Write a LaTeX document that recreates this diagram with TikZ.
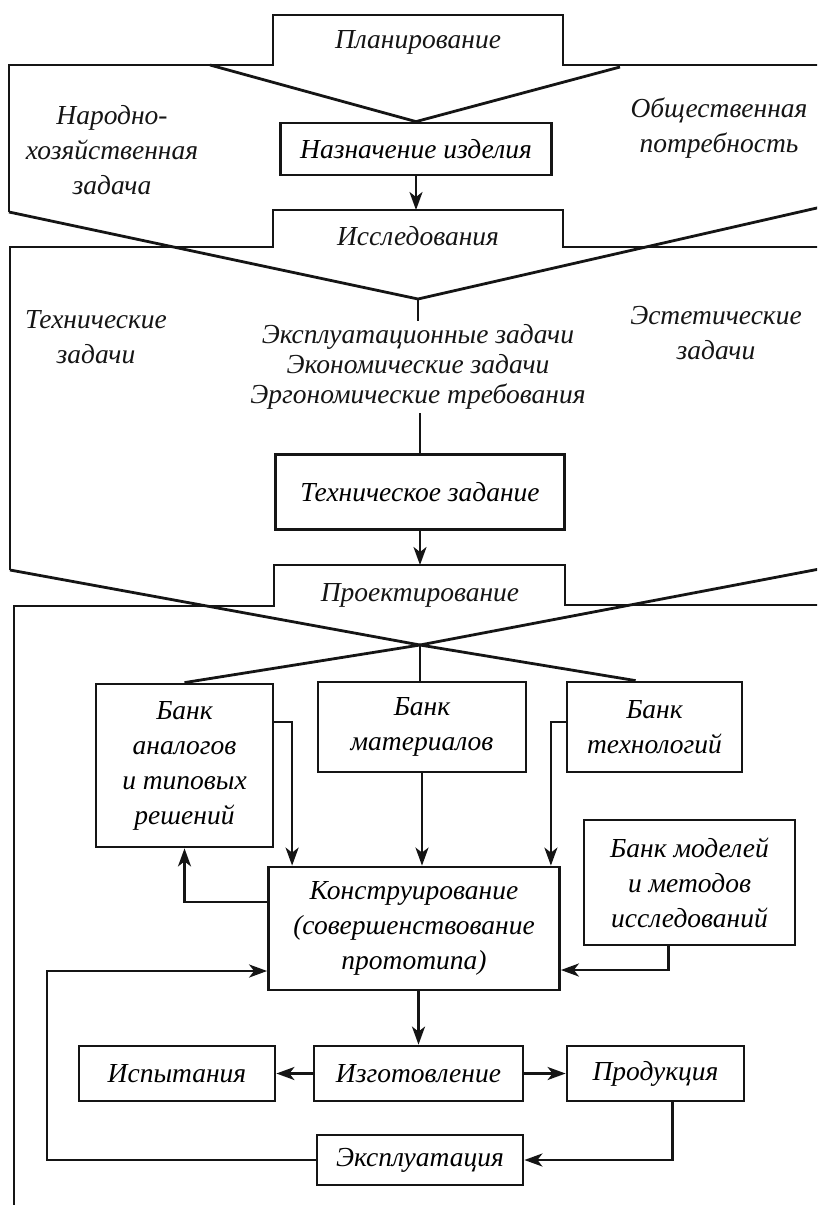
\documentclass[tikz,border=0pt]{standalone}
\usepackage{fontspec}
\setmainfont{Liberation Serif}
\usepackage{tikz}
\usetikzlibrary{arrows.meta,calc}
\definecolor{ctinta}{HTML}{151515}
\tikzset{
  blok/.style={rectangle, draw=ctinta, line width=2.8pt, align=center, inner sep=0pt},
  strelka/.style={-{Stealth[length=18pt,width=13pt,inset=5pt]}, line width=2.5pt, draw=ctinta},
  liniya/.style={line width=2.5pt, draw=ctinta},
  kontur/.style={line width=2.8pt, draw=ctinta},
  nadpis/.style={align=center, text=ctinta},
}

\begin{document}
\begin{tikzpicture}[x=1pt, y=-1pt, font=\fontsize{27.5}{35}\selectfont\itshape]
  \useasboundingbox (0,0) rectangle (817,1205);
  \clip (0,0) rectangle (817,1205);
  \fill[white] (0,0) rectangle (817,1205);

  % Планирование
  \draw[kontur] (9,212) -- (9,65) -- (273,65) -- (273,15) -- (563,15) -- (563,65) -- (830,65);
  \node[nadpis] (plan) at (418,42) {Планирование};
  \node[nadpis] (narod) at (112,150) {Народно-\\хозяйственная\\задача};
  \node[nadpis] (obsch) at (719,128) {Общественная\\потребность};
  \node[blok, minimum width=271pt, minimum height=52pt] (naznach) at (416,149) {Назначение изделия};
  \draw[kontur] (210,65) -- (naznach.north) -- (620,67);

  % Исследования
  \coordinate (vershina2) at (418,299);
  \draw[kontur] (9,212) -- (vershina2) -- (830,205);
  \draw[kontur] (10,570) -- (10,247) -- (273,247) -- (273,210) -- (563,210) -- (563,247) -- (830,247);
  \coordinate (issl-verh) at (418,210);
  \node[nadpis] (issl) at (418,236) {Исследования};
  \node[nadpis] (tehzad) at (96,337) {Технические\\задачи};
  \node[nadpis] (estet) at (716,333) {Эстетические\\задачи};
  \node[nadpis, font=\fontsize{27.5}{30}\selectfont\itshape] (zadachi) at (418,367)
    {Эксплуатационные задачи\\Экономические задачи\\Эргономические требования};
  \node[blok, minimum width=289pt, minimum height=75pt] (tz) at (420,492) {Техническое задание};
  \draw[strelka] (naznach.south) -- (naznach.south |- issl-verh);
  \draw[liniya] (vershina2) -- (zadachi.north);
  \draw[liniya] (tz.north |- zadachi.south) -- (tz.north);

  % Проектирование
  \coordinate (vershina3) at (420,645);
  \draw[kontur] (10,570) -- (vershina3) -- (830,567);
  \draw[kontur] (14,1215) -- (14,606) -- (274,606) -- (274,565) -- (565,565) -- (565,605) -- (830,605);
  \coordinate (proekt-verh) at (420,565);
  \node[nadpis] (proekt) at (420,595) {Проектирование};
  \draw[strelka] (tz.south) -- (tz.south |- proekt-verh);

  % банки
  \node[blok, minimum width=177pt, minimum height=163pt] (bank-an) at (184.5,765.5) {Банк\\аналогов\\и типовых\\решений};
  \node[blok, minimum width=208pt, minimum height=90pt] (bank-mat) at (422,727) {Банк\\материалов};
  \node[blok, minimum width=175pt, minimum height=90pt] (bank-teh) at (654.5,727) {Банк\\технологий};
  \node[blok, minimum width=211pt, minimum height=125pt] (bank-mod) at (689.5,882.5) {Банк моделей\\и методов\\исследований};
  \node[blok, minimum width=291pt, minimum height=123pt] (konstr) at (414,928.5) {Конструирование\\(совершенствование\\прототипа)};
  \draw[kontur] (bank-an.north) -- (vershina3) -- ([xshift=70pt]bank-teh.north west);
  \draw[liniya] (vershina3) -- (vershina3 |- bank-mat.north);

  \draw[strelka] ([yshift=43.5pt]bank-an.east) -| ([xshift=25pt]konstr.north west);
  \draw[strelka] (bank-mat.south) -- (bank-mat.south |- konstr.north);
  \draw[strelka] ([yshift=5pt]bank-teh.west) -| ([xshift=-10pt]konstr.north east);
  \draw[strelka] ([yshift=26.5pt]konstr.west) -| (bank-an.south);
  \draw[strelka] ([xshift=-21pt]bank-mod.south) |- ([yshift=-41.5pt]konstr.east);

  % изготовление и эксплуатация
  \node[blok, minimum width=196pt, minimum height=55pt] (ispyt) at (177,1073.5) {Испытания};
  \node[blok, minimum width=209pt, minimum height=55pt] (izgot) at (418.5,1073.5) {Изготовление};
  \node[blok, minimum width=177pt, minimum height=55pt] (prod) at (655.5,1073.5) {Продукция};
  \node[blok, minimum width=206pt, minimum height=50pt] (ekspl) at (420,1160) {Эксплуатация};
  \coordinate (obhod) at (47,1160);

  \draw[strelka] (izgot.north |- konstr.south) -- (izgot.north);
  \draw[strelka] (izgot.west) -- (ispyt.east);
  \draw[strelka] (izgot.east) -- (prod.west);
  \draw[strelka] ([xshift=17pt]prod.south) |- (ekspl.east);
  \draw[strelka] (ekspl.west) -- (obhod) |- ([yshift=-42.5pt]konstr.west);
\end{tikzpicture}
\end{document}
